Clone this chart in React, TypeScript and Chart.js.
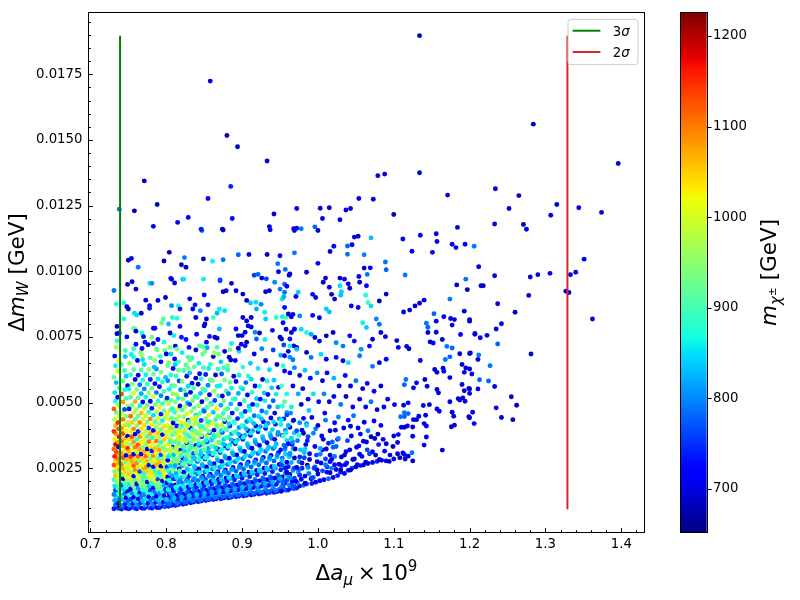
import { useEffect, useRef } from "react";
import { Chart, registerables } from "chart.js";
Chart.register(...registerables);

const FONT = '"DejaVu Sans", "Liberation Sans", sans-serif';

// Each point: [Δa_μ × 10^9, Δm_W in units of 1e-3 GeV, m_χ± in GeV]
const CORE_A: number[][] = [
  [.731,.96,740],[.734,1.02,700],[.737,.97,760],[.738,1.06,652],[.733,1.1,790],[.736,1.18,720],[.732,1.27,820],[.738,1.34,780],[.734,1.42,840],[.731,1.5,800],[.737,1.58,870],[.733,1.66,760],[.736,1.74,890],[.732,1.82,850],[.738,1.9,920],[.734,1.98,960],[.731,2.06,900],[.737,2.14,990],[.733,2.22,1060],[.736,2.3,1000],[.732,2.38,930],[.738,2.46,1080],[.734,2.54,1030],[.731,2.62,1130],[.737,2.7,1090],[.733,2.78,1045],[.736,2.86,1100],[.732,2.95,1160],[.738,3.04,1075],[.734,3.13,1140],[.731,3.22,1110],[.737,3.31,690],[.733,3.4,1165],[.735,3.45,1225],[.736,3.5,1090],[.732,3.6,1030],[.738,3.7,1175],[.734,3.8,1085],[.731,3.9,1145],[.737,4.0,1120],[.733,4.12,1060],[.736,4.24,1150],[.732,4.36,980],[.738,4.48,1010],[.734,4.62,930],[.731,4.76,1120],[.737,4.9,960],[.733,5.05,870],[.736,5.2,720],[.732,5.38,850],[.738,5.56,900],[.734,5.76,830],[.731,5.96,920],[.736,6.2,1000],[.733,6.4,860],[.737,6.6,1010],
  [.741,.95,720],[.744,1.0,760],[.748,.97,690],[.742,1.08,800],[.746,1.14,740],[.749,1.22,780],[.743,1.3,830],[.747,1.38,720],[.741,1.46,860],[.745,1.54,790],[.749,1.62,700],[.743,1.7,850],[.747,1.78,880],[.741,1.86,760],[.745,1.94,910],[.749,2.02,950],[.743,2.1,690],[.747,2.18,1000],[.741,2.26,920],[.745,2.34,1040],[.749,2.42,980],[.743,2.5,1070],[.747,2.58,1010],[.741,2.66,1100],[.745,2.74,940],[.749,2.82,1060],[.743,2.9,1120],[.747,2.99,700],[.741,3.08,1085],[.745,3.17,1030],[.749,3.26,1150],[.743,3.35,1070],[.747,3.44,990],[.741,3.53,1110],[.745,3.62,1060],[.749,3.72,680],[.743,3.82,1130],[.747,3.92,1020],[.741,4.02,1090],[.745,4.13,1045],[.749,4.24,970],[.743,4.36,1100],[.747,4.48,940],[.741,4.6,1000],[.745,4.74,760],[.749,4.88,960],[.743,5.02,1080],[.747,5.16,900],[.741,5.32,1130],[.745,5.48,870],[.749,5.64,700],[.743,5.82,920],[.747,6.0,840],[.745,6.22,890],
  [.751,.96,740],[.754,1.01,700],[.758,.98,770],[.752,1.09,810],[.756,1.16,730],[.759,1.24,840],[.753,1.32,760],[.757,1.4,700],[.751,1.48,870],[.755,1.56,800],[.759,1.64,900],[.753,1.72,690],[.757,1.8,930],[.751,1.88,860],[.755,1.96,970],[.759,2.04,910],[.753,2.12,1010],[.757,2.2,720],[.751,2.28,1050],[.755,2.36,960],[.759,2.44,1090],[.753,2.52,1020],[.757,2.6,1120],[.751,2.68,990],[.755,2.76,1070],[.759,2.85,1040],[.753,2.94,1140],[.757,3.03,690],[.751,3.12,1060],[.755,3.21,1000],[.759,3.3,1100],[.753,3.4,950],[.757,3.5,1080],[.751,3.6,1040],[.755,3.7,1125],[.759,3.8,700],[.753,3.9,1010],[.757,4.0,1090],[.751,4.12,960],[.755,4.24,1050],[.759,4.36,920],[.753,4.48,1110],[.757,4.62,980],[.751,4.76,730],[.755,4.9,940],[.759,5.04,1070],[.753,5.2,900],[.757,5.36,1000],[.751,5.52,860],[.755,5.7,950],[.759,5.88,720],[.753,6.06,880],[.757,6.26,930],
  [.761,.96,730],[.764,1.02,770],[.768,.98,700],[.762,1.1,800],[.766,1.18,750],[.769,1.26,830],[.763,1.34,720],[.767,1.42,790],[.761,1.5,860],[.765,1.58,740],[.769,1.66,880],[.763,1.74,810],[.767,1.82,920],[.761,1.9,700],[.765,1.98,960],[.769,2.06,900],[.763,2.14,1000],[.767,2.22,940],[.761,2.3,1030],[.765,2.38,760],[.769,2.46,1060],[.763,2.54,980],[.767,2.62,1010],[.761,2.7,1090],[.765,2.78,930],[.769,2.86,1050],[.763,2.95,1110],[.767,3.04,700],[.761,3.13,1000],[.765,3.22,1070],[.769,3.31,960],[.763,3.4,1120],[.767,3.5,1020],[.761,3.6,890],[.765,3.7,1080],[.769,3.8,990],[.763,3.9,740],[.767,4.0,1040],[.761,4.12,950],[.765,4.24,1095],[.769,4.36,1000],[.763,4.48,920],[.767,4.6,1060],[.761,4.74,970],[.765,4.88,860],[.769,5.02,710],[.763,5.18,910],[.767,5.34,820],[.761,5.5,940],[.765,5.68,790],[.769,5.86,870],[.763,6.04,700],[.767,6.24,900],
  [.771,.97,740],[.774,1.03,700],[.778,.99,780],[.772,1.1,820],[.776,1.18,730],[.779,1.26,790],[.773,1.34,850],[.777,1.42,710],[.771,1.5,800],[.775,1.58,880],[.779,1.66,760],[.773,1.74,910],[.777,1.82,840],[.771,1.9,950],[.775,1.98,700],[.779,2.06,980],[.773,2.14,920],[.777,2.22,1010],[.771,2.3,870],[.775,2.38,1050],[.779,2.46,960],[.773,2.54,1080],[.777,2.62,720],[.771,2.7,1000],[.775,2.78,1060],[.779,2.87,940],[.773,2.96,1110],[.777,3.05,990],[.771,3.14,1070],[.775,3.23,690],[.779,3.32,1030],[.773,3.42,960],[.777,3.52,1100],[.771,3.62,1010],[.775,3.72,900],[.779,3.82,1070],[.773,3.92,980],[.777,4.03,760],[.771,4.14,1040],[.775,4.26,940],[.779,4.38,1090],[.773,4.5,990],[.777,4.63,880],[.771,4.76,1000],[.775,4.9,920],[.779,5.05,720],[.773,5.2,860],[.777,5.36,960],[.771,5.52,800],[.775,5.7,900],[.779,5.88,740],[.773,6.06,860],[.777,6.26,950],
  [.781,.98,720],[.784,1.04,760],[.788,1.0,700],[.782,1.12,800],[.786,1.2,740],[.789,1.28,830],[.783,1.36,770],[.787,1.44,700],[.781,1.52,860],[.785,1.6,790],[.789,1.68,900],[.783,1.76,730],[.787,1.84,940],[.781,1.92,870],[.785,2.0,980],[.789,2.08,760],[.783,2.16,1000],[.787,2.24,930],[.781,2.32,1040],[.785,2.4,880],[.789,2.48,1010],[.783,2.56,700],[.787,2.64,1070],[.781,2.72,970],[.785,2.8,1030],[.789,2.89,910],[.783,2.98,1090],[.787,3.07,1000],[.781,3.16,740],[.785,3.25,1060],[.789,3.34,950],[.783,3.44,1020],[.787,3.54,1100],[.781,3.64,890],[.785,3.74,990],[.789,3.84,1050],[.783,3.94,700],[.787,4.05,960],[.781,4.16,1030],[.785,4.28,920],[.789,4.4,1000],[.783,4.52,850],[.787,4.65,970],[.781,4.78,730],[.785,4.92,940],[.789,5.06,880],[.783,5.22,1000],[.787,5.38,790],[.781,5.55,920],[.785,5.72,700],[.789,5.9,860],[.783,6.08,930],[.787,6.28,810],
  [.791,1.0,740],[.794,1.06,700],[.798,1.03,770],[.792,1.14,810],[.796,1.22,730],[.799,1.3,780],[.793,1.38,840],[.797,1.46,700],[.791,1.54,800],[.795,1.62,870],[.799,1.7,750],[.793,1.78,900],[.797,1.86,820],[.791,1.94,950],[.795,2.02,720],[.799,2.1,980],[.793,2.18,910],[.797,2.26,1010],[.791,2.34,860],[.795,2.42,1040],[.799,2.5,950],[.793,2.58,700],[.797,2.66,1000],[.791,2.74,1060],[.795,2.83,930],[.799,2.92,1020],[.793,3.01,760],[.797,3.1,990],[.791,3.19,1080],[.795,3.28,940],[.799,3.38,1010],[.793,3.48,870],[.797,3.58,1050],[.791,3.68,970],[.795,3.78,700],[.799,3.88,1000],[.793,3.98,920],[.797,4.09,1040],[.791,4.2,960],[.795,4.32,860],[.799,4.44,990],[.793,4.56,740],[.797,4.69,930],[.791,4.82,1010],[.795,4.96,880],[.799,5.1,950],[.793,5.26,800],[.797,5.42,900],[.791,5.6,720],[.795,5.78,880],[.799,5.96,830],[.793,6.16,940],
];

const CORE_B: number[][] = [
  [.803,1.05,730],[.807,1.09,700],[.801,1.16,770],[.809,1.2,740],[.805,1.27,800],[.802,1.36,720],[.808,1.41,760],[.804,1.5,700],[.806,1.55,820],[.800,1.63,750],[.809,1.7,700],[.803,1.77,790],[.807,1.86,850],[.801,1.95,730],[.805,2.0,880],[.808,2.11,760],[.802,2.17,700],[.806,2.28,900],[.804,2.36,830],[.809,2.43,960],[.801,2.55,760],[.805,2.62,920],[.807,2.72,990],[.802,2.8,700],[.808,2.93,940],[.804,3.0,870],[.806,3.13,1000],[.801,3.19,960],[.809,3.3,730],[.803,3.42,1010],[.807,3.47,940],[.805,3.6,1040],[.801,3.71,980],[.808,3.78,880],[.803,3.9,1000],[.806,4.03,1060],[.802,4.1,950],[.809,4.22,700],[.804,4.35,1000],[.807,4.41,930],[.801,4.57,1010],[.805,4.7,960],[.808,4.77,870],[.803,4.95,990],[.806,5.08,920],[.801,5.17,740],[.809,5.33,950],[.804,5.51,860],[.807,5.64,900],[.802,5.83,800],[.806,6.05,880],[.809,6.3,720],[.803,6.52,940],
  [.812,1.08,740],[.816,1.12,700],[.819,1.19,770],[.811,1.25,810],[.815,1.31,730],[.818,1.4,760],[.813,1.46,700],[.817,1.57,800],[.810,1.63,740],[.814,1.7,840],[.819,1.74,780],[.812,1.86,700],[.816,1.92,860],[.818,2.04,790],[.811,2.1,730],[.815,2.19,880],[.813,2.3,820],[.819,2.36,910],[.817,2.47,700],[.811,2.55,860],[.814,2.66,940],[.818,2.71,760],[.812,2.83,900],[.816,2.9,960],[.810,3.02,830],[.814,3.1,1000],[.819,3.19,700],[.813,3.3,950],[.817,3.38,1020],[.811,3.51,910],[.815,3.6,980],[.818,3.69,1040],[.812,3.82,870],[.816,3.9,1000],[.810,4.02,950],[.814,4.11,740],[.819,4.25,1010],[.813,4.36,930],[.817,4.47,980],[.811,4.63,880],[.815,4.74,1000],[.818,4.87,700],[.812,5.02,940],[.816,5.17,860],[.814,5.3,970],[.819,5.49,800],[.811,5.63,920],[.817,5.82,760],[.813,6.01,880],[.816,6.24,930],[.812,6.45,840],
  [.822,1.13,740],[.826,1.16,700],[.829,1.22,780],[.821,1.3,810],[.825,1.35,730],[.828,1.45,770],[.823,1.52,700],[.827,1.6,820],[.820,1.69,750],[.824,1.76,850],[.829,1.8,700],[.822,1.93,790],[.826,1.99,870],[.828,2.1,740],[.821,2.16,830],[.825,2.24,900],[.823,2.35,700],[.829,2.42,860],[.827,2.52,930],[.821,2.6,780],[.824,2.71,890],[.828,2.79,960],[.822,2.88,700],[.826,2.97,920],[.820,3.08,990],[.824,3.16,850],[.829,3.27,1000],[.823,3.36,940],[.827,3.47,730],[.821,3.57,1010],[.825,3.66,960],[.828,3.77,890],[.822,3.88,1030],[.826,3.99,970],[.820,4.1,860],[.824,4.21,1000],[.829,4.33,700],[.823,4.46,950],[.827,4.58,1010],[.821,4.72,900],[.825,4.85,970],[.828,4.99,820],[.822,5.14,930],[.826,5.3,750],[.824,5.46,900],[.829,5.62,850],[.821,5.8,940],[.827,6.0,700],[.823,6.22,880],[.826,6.43,910],
  [.832,1.18,740],[.836,1.21,700],[.839,1.27,770],[.831,1.34,800],[.835,1.42,730],[.838,1.49,760],[.833,1.57,700],[.837,1.66,810],[.830,1.73,740],[.834,1.8,780],[.839,1.88,700],[.832,1.97,830],[.836,2.06,760],[.838,2.13,860],[.831,2.22,720],[.835,2.32,800],[.833,2.41,880],[.839,2.49,740],[.837,2.59,850],[.831,2.67,700],[.834,2.78,900],[.838,2.86,820],[.832,2.97,930],[.836,3.06,760],[.830,3.17,880],[.834,3.26,960],[.839,3.37,700],[.833,3.47,920],[.837,3.58,990],[.831,3.7,870],[.835,3.8,1000],[.838,3.92,940],[.832,4.03,720],[.836,4.15,980],[.830,4.27,900],[.834,4.39,1010],[.839,4.52,850],[.833,4.66,960],[.837,4.79,920],[.831,4.93,760],[.835,5.08,940],[.838,5.23,880],[.832,5.39,700],[.836,5.56,900],[.834,5.74,730],[.839,5.93,690],[.831,6.13,840],[.837,6.36,920],
  [.842,1.22,740],[.846,1.25,700],[.849,1.31,780],[.841,1.39,810],[.845,1.46,730],[.848,1.54,760],[.843,1.62,700],[.847,1.7,800],[.840,1.78,740],[.844,1.86,820],[.849,1.95,700],[.842,2.03,770],[.846,2.12,840],[.848,2.2,720],[.841,2.29,790],[.845,2.39,860],[.843,2.47,700],[.849,2.57,830],[.847,2.66,900],[.841,2.76,760],[.844,2.85,870],[.848,2.96,700],[.842,3.05,910],[.846,3.16,840],[.840,3.26,940],[.844,3.37,780],[.849,3.48,900],[.843,3.59,970],[.847,3.71,710],[.841,3.82,930],[.845,3.94,1000],[.848,4.07,880],[.842,4.19,950],[.846,4.32,760],[.840,4.45,990],[.844,4.59,910],[.849,4.73,850],[.843,4.88,960],[.847,5.03,700],[.841,5.19,900],[.845,5.35,830],[.848,5.52,920],[.842,5.7,690],[.846,5.9,870],[.844,6.1,720],[.849,6.33,900],
  [.852,1.27,740],[.856,1.3,700],[.859,1.36,780],[.851,1.43,810],[.855,1.5,730],[.858,1.59,760],[.853,1.66,700],[.857,1.75,800],[.850,1.83,740],[.854,1.92,820],[.859,2.0,700],[.852,2.09,770],[.856,2.18,840],[.858,2.27,720],[.851,2.36,790],[.855,2.46,860],[.853,2.55,700],[.859,2.65,830],[.857,2.75,880],[.851,2.85,750],[.854,2.95,860],[.858,3.06,700],[.852,3.16,900],[.856,3.27,820],[.850,3.39,930],[.854,3.5,770],[.859,3.62,890],[.853,3.74,960],[.857,3.86,720],[.851,3.99,920],[.855,4.12,990],[.858,4.25,860],[.852,4.39,940],[.856,4.53,1000],[.850,4.67,780],[.854,4.82,910],[.859,4.97,850],[.853,5.13,940],[.857,5.3,700],[.851,5.47,880],[.855,5.66,800],[.858,5.86,910],[.852,6.07,740],[.856,6.3,860],
];

const CORE_C: number[][] = [
  [.862,1.31,740],[.866,1.34,700],[.869,1.41,780],[.861,1.48,810],[.865,1.56,730],[.868,1.64,760],[.863,1.72,700],[.867,1.81,800],[.860,1.9,740],[.864,1.99,820],[.869,2.08,700],[.862,2.17,780],[.866,2.27,850],[.868,2.37,720],[.861,2.47,800],[.865,2.57,870],[.863,2.67,700],[.869,2.78,840],[.867,2.89,900],[.861,3.0,760],[.864,3.11,880],[.868,3.23,720],[.862,3.34,920],[.866,3.43,1010],[.860,3.56,850],[.864,3.69,900],[.869,3.82,960],[.863,3.95,700],[.867,4.08,930],[.861,4.21,1020],[.865,4.35,880],[.868,4.49,950],[.862,4.63,840],[.866,4.77,1030],[.860,4.92,920],[.864,5.08,760],[.869,5.25,900],[.863,5.43,960],[.867,5.62,860],[.861,5.83,940],[.865,6.05,700],[.868,6.28,880],
  [.872,1.34,740],[.876,1.37,700],[.879,1.44,780],[.871,1.51,810],[.875,1.59,730],[.878,1.68,760],[.873,1.76,700],[.877,1.85,800],[.870,1.94,740],[.874,2.03,820],[.879,2.13,700],[.872,2.23,790],[.876,2.33,850],[.878,2.43,720],[.871,2.54,800],[.875,2.65,860],[.873,2.76,700],[.879,2.87,830],[.877,2.99,890],[.871,3.1,760],[.874,3.22,870],[.878,3.35,700],[.872,3.47,910],[.876,3.6,840],[.870,3.73,950],[.874,3.86,780],[.879,4.0,920],[.873,4.14,990],[.877,4.28,720],[.871,4.43,940],[.875,4.58,880],[.878,4.74,960],[.872,4.9,820],[.876,5.07,930],[.874,5.25,700],[.879,5.44,900],[.871,5.64,860],[.877,5.86,930],[.873,6.09,780],[.876,6.33,890],
  [.882,1.37,740],[.886,1.4,700],[.889,1.47,780],[.881,1.55,800],[.885,1.63,730],[.888,1.72,760],[.883,1.81,700],[.887,1.9,800],[.880,2.0,740],[.884,2.1,820],[.889,2.2,700],[.882,2.31,780],[.886,2.42,840],[.888,2.53,720],[.881,2.64,790],[.885,2.76,850],[.883,2.88,700],[.889,3.0,820],[.887,3.13,870],[.881,3.26,760],[.884,3.39,850],[.888,3.53,700],[.882,3.67,880],[.886,3.81,820],[.880,3.96,900],[.884,4.11,760],[.889,4.27,870],[.883,4.43,920],[.887,4.6,720],[.881,4.77,880],[.885,4.95,830],[.888,5.14,900],[.882,5.34,780],[.886,5.55,860],[.884,5.77,920],[.889,6.0,700],[.881,6.24,880],
  [.892,1.41,740],[.896,1.44,700],[.899,1.51,780],[.891,1.59,800],[.895,1.68,730],[.898,1.77,760],[.893,1.86,700],[.897,1.96,800],[.890,2.06,740],[.894,2.17,820],[.899,2.28,700],[.892,2.39,780],[.896,2.51,840],[.898,2.63,720],[.891,2.75,790],[.895,2.88,850],[.893,3.01,700],[.899,3.15,820],[.897,3.29,860],[.891,3.43,740],[.894,3.58,840],[.898,3.73,700],[.892,3.89,870],[.896,4.05,800],[.890,4.22,890],[.894,4.39,740],[.899,4.57,860],[.893,4.75,900],[.897,4.94,720],[.891,5.14,870],[.895,5.35,820],[.898,5.57,890],[.892,5.8,700],[.896,6.04,860],
  [.902,1.44,740],[.906,1.47,700],[.909,1.54,780],[.901,1.62,800],[.905,1.71,730],[.908,1.81,760],[.903,1.91,700],[.907,2.01,800],[.900,2.12,740],[.904,2.23,820],[.909,2.35,700],[.902,2.47,780],[.906,2.6,840],[.908,2.73,720],[.901,2.86,790],[.905,3.0,850],[.903,3.14,700],[.909,3.29,820],[.907,3.44,850],[.901,3.6,740],[.904,3.76,830],[.908,3.93,700],[.902,4.1,860],[.906,4.28,800],[.900,4.47,880],[.904,4.66,740],[.909,4.86,850],[.903,5.07,890],[.907,5.29,720],[.901,5.52,850],[.905,5.76,780],[.908,6.01,880],
  [.912,1.48,740],[.916,1.51,700],[.919,1.58,780],[.911,1.67,800],[.915,1.76,730],[.918,1.86,760],[.913,1.96,700],[.917,2.07,800],[.910,2.18,740],[.914,2.3,820],[.919,2.42,700],[.912,2.55,780],[.916,2.68,840],[.918,2.82,720],[.911,2.96,790],[.915,3.11,840],[.913,3.26,700],[.919,3.42,810],[.917,3.58,850],[.911,3.75,740],[.914,3.93,820],[.918,4.11,700],[.912,4.3,860],[.916,4.5,790],[.910,4.71,870],[.914,4.93,730],[.919,5.15,840],[.913,5.39,880],[.917,5.63,710],[.912,5.89,850],
  [.922,1.52,740],[.926,1.55,700],[.929,1.62,780],[.921,1.71,800],[.925,1.81,730],[.928,1.91,760],[.923,2.02,700],[.927,2.13,800],[.920,2.25,740],[.924,2.37,820],[.929,2.5,700],[.922,2.63,780],[.926,2.77,830],[.928,2.91,720],[.921,3.06,790],[.925,3.21,840],[.923,3.37,700],[.929,3.54,800],[.927,3.71,850],[.921,3.89,740],[.924,4.08,810],[.928,4.27,700],[.922,4.47,850],[.926,4.68,780],[.920,4.9,860],[.924,5.13,730],[.929,5.37,840],[.923,5.62,870],[.927,5.88,700],
  [.932,1.55,740],[.936,1.58,700],[.939,1.65,780],[.931,1.75,800],[.935,1.85,730],[.938,1.95,760],[.933,2.06,700],[.937,2.18,800],[.930,2.3,740],[.934,2.43,820],[.939,2.56,700],[.932,2.7,780],[.936,2.84,830],[.938,2.99,720],[.931,3.14,790],[.935,3.3,830],[.933,3.47,700],[.939,3.64,800],[.937,3.82,850],[.931,4.01,740],[.934,4.21,810],[.938,4.41,700],[.932,4.62,840],[.936,4.84,780],[.930,5.07,860],[.934,5.31,730],[.939,5.56,840],[.933,5.82,870],
  [.942,1.58,740],[.946,1.61,700],[.949,1.69,780],[.941,1.79,800],[.945,1.89,730],[.948,2.0,760],[.943,2.12,700],[.947,2.24,800],[.940,2.37,740],[.944,2.5,820],[.949,2.64,700],[.942,2.78,780],[.946,2.93,830],[.948,3.09,720],[.941,3.25,790],[.945,3.42,830],[.943,3.6,700],[.947,3.78,800],[.940,3.97,840],[.944,4.17,740],[.949,4.38,810],[.943,4.6,700],[.947,4.83,840],[.941,5.07,780],[.945,5.32,860],[.948,5.58,730],[.942,5.85,840],
];

const CORE_D: number[][] = [
  [.951,1.62,740],[.954,1.7,700],[.958,1.66,780],[.952,1.8,800],[.956,1.92,730],[.959,2.04,760],[.953,2.17,700],[.957,2.3,810],[.951,2.44,740],[.955,2.58,830],[.959,2.73,700],[.953,2.88,790],[.957,3.04,840],[.951,3.2,720],[.955,3.38,800],[.959,3.56,850],[.953,3.75,700],[.957,3.95,810],[.951,4.16,860],[.955,4.38,740],[.959,4.62,820],[.953,4.86,890],
  [.961,1.67,740],[.964,1.75,700],[.968,1.72,780],[.962,1.86,800],[.966,1.99,730],[.969,2.12,760],[.963,2.26,700],[.967,2.41,810],[.961,2.56,740],[.965,2.72,820],[.969,2.89,700],[.963,3.06,790],[.967,3.24,830],[.961,3.43,720],[.965,3.63,800],[.969,3.84,840],[.963,4.06,700],[.967,4.3,810],
  [.972,1.75,740],[.976,1.82,700],[.981,1.85,780],[.985,1.9,760],[.973,1.95,800],[.978,2.08,730],[.983,2.2,700],[.988,2.3,790],[.974,2.35,820],[.979,2.5,740],[.986,2.62,700],[.975,2.75,800],[.982,2.9,760],[.989,3.05,720],[.977,3.2,830],[.984,3.4,700],[.973,3.55,790],[.987,3.7,760],[.979,3.95,720],[.985,4.2,800],
  [.992,1.92,740],[.997,1.97,700],[1.002,2.02,760],[1.008,2.06,720],[1.014,2.1,780],[1.02,2.15,700],[1.026,2.22,740],[.994,2.15,790],[1.0,2.28,700],[1.006,2.4,760],[1.012,2.35,720],[1.018,2.5,800],[1.024,2.45,700],[1.03,2.35,740],[.996,2.55,780],[1.004,2.7,700],[1.01,2.85,760],[1.016,2.75,720],[1.022,2.95,790],[1.028,2.65,700],[.998,3.0,760],[1.006,3.2,700],[1.014,3.45,740],[1.02,3.3,780],[1.026,3.6,700],
  [1.035,2.3,720],[1.04,2.42,700],[1.045,2.5,760],[1.05,2.55,700],[1.056,2.6,740],[1.06,2.62,690],[1.066,2.68,720],[1.072,2.72,700],[1.078,2.76,740],[1.084,2.8,700],[1.09,2.78,720],[1.038,2.7,740],[1.048,2.85,700],[1.058,2.95,720],[1.068,3.05,760],[1.076,3.0,700],[1.088,3.15,720],[1.042,3.2,690],[1.054,3.35,730],[1.064,3.5,700],[1.08,3.4,740],[1.095,3.0,700],[1.1,2.85,720],[1.108,2.9,690],[1.115,2.85,720],
  [.953,2.05,760],[.957,2.5,700],[.962,2.95,820],[.966,3.4,740],[.958,3.85,860],[.964,4.6,800],[.971,2.0,720],[.975,2.45,780],[.979,2.7,700],[.982,3.1,830],[.986,3.55,740],[.975,3.75,880],[.981,4.4,720],[.988,4.7,840],[.991,2.1,700],[.995,2.5,760],[.999,2.75,700],[1.003,3.25,820],[1.007,3.6,700],[.997,4.0,790],[1.009,4.6,720],[1.012,2.55,760],[1.016,3.0,700],[1.019,3.5,780],[1.023,3.95,700],[1.027,4.45,800],[1.031,2.6,720],[1.035,3.0,690],[1.039,3.55,760],[1.043,4.1,700],[1.047,4.5,790],[1.051,3.3,700],[1.056,3.8,720],[1.061,4.25,690],[1.065,3.2,760],[1.07,3.7,700],[1.074,4.3,720],[1.079,3.8,690],[1.086,3.6,720],
];

const FILL: number[][] = [
  [.8045,1.12,780],[.8005,1.31,840],[.8085,1.47,800],[.8025,1.68,860],[.8065,1.84,760],[.8035,2.04,880],[.8075,2.22,820],[.8015,2.41,900],[.8055,2.58,840],[.8095,2.76,930],[.8025,2.95,860],[.8065,3.24,980],[.8045,3.52,900],[.8085,3.84,960],[.8015,4.14,1000],
  [.8145,1.16,790],[.8105,1.36,830],[.8185,1.52,760],[.8125,1.78,870],[.8165,1.97,800],[.8135,2.14,850],[.8175,2.4,900],[.8115,2.6,820],[.8155,2.77,940],[.8195,2.98,870],[.8125,3.22,960],[.8165,3.44,900],[.8145,3.75,1000],[.8185,4.05,940],
  [.8245,1.2,780],[.8205,1.4,820],[.8285,1.56,760],[.8225,1.83,860],[.8265,2.03,810],[.8235,2.2,880],[.8275,2.46,840],[.8215,2.65,910],[.8255,2.84,850],[.8295,3.02,950],[.8225,3.3,880],[.8265,3.52,970],[.8245,3.82,920],[.8285,4.12,990],
  [.8345,1.25,790],[.8305,1.45,830],[.8385,1.62,770],[.8325,1.85,850],[.8365,2.1,800],[.8335,2.27,870],[.8375,2.53,830],[.8315,2.72,890],[.8355,2.91,840],[.8395,3.11,920],[.8325,3.33,870],[.8365,3.63,950],[.8345,3.95,900],[.8385,4.3,980],
  [.8445,1.28,780],[.8405,1.5,830],[.8485,1.66,760],[.8425,1.9,850],[.8465,2.16,800],[.8435,2.34,860],[.8475,2.62,820],[.8415,2.81,880],[.8455,3.01,840],[.8495,3.21,910],[.8425,3.43,860],[.8465,3.76,940],[.8445,4.1,890],
  [.8545,1.33,780],[.8505,1.55,820],[.8585,1.71,760],[.8525,1.96,840],[.8565,2.22,800],[.8535,2.41,860],[.8575,2.7,820],[.8515,2.9,870],[.8555,3.11,830],[.8595,3.33,900],[.8525,3.56,860],[.8565,3.9,930],[.8545,4.26,880],
  [.8645,1.38,790],[.8605,1.6,820],[.8685,1.77,770],[.8625,2.03,840],[.8665,2.32,800],[.8635,2.52,860],[.8675,2.82,820],[.8615,3.05,880],[.8655,3.27,840],[.8695,3.49,910],[.8625,3.76,870],[.8665,4.13,940],
  [.8745,1.41,780],[.8705,1.64,820],[.8785,1.81,760],[.8725,2.08,840],[.8765,2.38,800],[.8735,2.59,850],[.8775,2.93,810],[.8715,3.16,870],[.8755,3.41,830],[.8795,3.66,900],[.8725,3.94,860],[.8765,4.35,920],
  [.8845,1.44,790],[.8805,1.68,830],[.8885,1.86,770],[.8825,2.15,850],[.8865,2.47,800],[.8835,2.7,850],[.8875,3.06,820],[.8815,3.32,870],[.8855,3.58,830],[.8895,3.86,890],[.8825,4.2,850],
  [.8945,1.48,780],[.8905,1.72,820],[.8985,1.91,760],[.8925,2.22,840],[.8965,2.56,800],[.8935,2.82,850],[.8975,3.21,810],[.8915,3.5,860],[.8955,3.8,830],[.8995,4.12,880],
  [.9045,1.51,790],[.9005,1.78,830],[.9085,1.97,770],[.9025,2.3,840],[.9065,2.67,800],[.9035,2.94,850],[.9075,3.36,820],[.9015,3.68,860],[.9055,4.0,830],[.9095,4.38,870],
  [.9145,1.55,780],[.9105,1.83,820],[.9185,2.02,760],[.9125,2.36,840],[.9165,2.76,800],[.9135,3.04,850],[.9175,3.5,810],[.9115,3.84,860],[.9155,4.2,830],
  [.9245,1.59,790],[.9205,1.88,830],[.9285,2.08,770],[.9225,2.43,840],[.9265,2.84,800],[.9235,3.14,850],[.9275,3.62,820],[.9215,3.98,860],[.9255,4.38,830],
  [.9345,1.62,780],[.9305,1.92,820],[.9385,2.13,760],[.9325,2.5,840],[.9365,2.92,800],[.9335,3.22,840],[.9375,3.73,810],[.9315,4.12,850],
  [.9445,1.65,790],[.9405,1.96,830],[.9485,2.18,770],[.9425,2.57,840],[.9465,3.0,800],[.9435,3.32,840],[.9475,3.86,810],[.9415,4.26,850],
  [.9545,1.75,780],[.9505,2.1,820],[.9585,2.38,760],[.9525,2.8,830],[.9565,3.22,800],[.9645,1.82,790],[.9605,2.18,830],[.9685,2.5,770],[.9625,2.95,840],[.9665,3.5,800],
];

const TRANS: number[][] = [
  [.741,6.45,900],[.746,6.75,830],[.752,6.5,960],[.757,7.05,880],[.762,6.6,720],[.766,6.9,930],[.771,6.45,850],[.776,7.2,700],[.779,6.7,910],[.784,6.35,830],[.788,7.0,950],[.793,6.55,720],[.797,7.3,880],[.802,6.4,930],[.806,6.85,840],[.812,7.15,700],[.816,6.55,900],[.821,6.9,860],[.826,7.4,730],[.829,6.3,940],[.834,6.7,890],[.839,7.0,700],[.843,6.5,860],[.848,6.85,920],[.853,7.3,720],[.858,6.45,880],[.862,6.75,690],[.867,7.1,900],[.872,6.55,840],[.877,6.95,700],[.881,6.4,930],[.886,7.25,860],[.891,6.6,720],[.896,6.95,850],[.901,6.35,880],[.906,7.3,690],[.911,6.5,840],[.916,6.85,720],[.921,6.3,860],[.926,7.05,800],[.931,6.6,700],[.936,6.25,850],[.941,7.0,760],[.946,6.45,690],[.951,6.8,820],[.956,6.2,720],[.961,6.95,700],[.735,7.35,880],[.748,7.5,720],[.768,7.65,870],[.783,7.25,690],[.81,7.55,860],[.84,7.6,720],[.87,7.8,830],[.9,7.55,700],[.93,7.4,860],
];

const MID_LEFT: number[][] = [
  [.731,9.27,790],[.734,8.75,870],[.735,7.9,690],[.735,7.62,700],[.738,7.65,720],[.734,7.1,960],[.732,6.77,720],
  [.778,9.54,860],[.781,9.54,800],[.749,9.5,690],[.755,9.6,700],[.760,9.32,690],[.806,9.73,700],[.811,9.55,690],[.822,9.7,800],[.871,9.64,770],[.886,9.54,690],[.875,9.22,690],[.879,9.26,700],[.892,9.26,700],[.901,9.13,690],[.931,9.22,700],[.936,9.26,690],[.943,9.58,800],[.950,9.32,790],[.956,9.51,780],
  [.773,8.9,700],[.778,8.69,720],[.778,8.59,740],[.789,8.89,690],[.799,9.0,690],[.807,8.69,800],[.816,8.69,880],[.831,8.95,720],[.838,8.72,730],[.835,8.56,720],[.850,9.1,720],[.845,8.5,800],[.855,8.72,730],[.870,8.56,860],[.867,8.4,830],[.877,8.5,850],[.862,8.24,890],[.853,8.18,690],[.851,7.99,690],[.850,7.92,690],[.839,8.24,690],[.818,8.56,740],[.808,8.24,880],[.814,8.21,870],[.796,8.18,910],[.794,8.02,930],[.803,7.99,830],[.783,7.83,730],[.785,7.83,700],[.781,7.49,930],[.789,7.4,720],[.770,7.51,730],[.772,7.3,740],[.760,7.22,730],[.768,7.06,720],[.759,7.8,920],[.758,8.4,850],[.761,8.33,850],[.767,8.4,690],[.744,8.18,870],[.744,8.79,870],[.748,8.65,690],[.750,8.56,700],[.757,7.83,920],[.760,7.72,690],[.805,7.65,690],[.818,7.9,720],[.820,7.49,740],[.830,7.1,730],[.798,6.98,930],[.805,7.1,940],[.814,7.04,930],[.787,7.04,920],[.768,6.79,960],[.769,6.63,850],[.757,6.73,870],[.746,6.98,900],[.754,6.83,860],[.785,6.6,960],[.792,6.76,880],[.800,6.85,690],[.811,6.66,720],[.829,6.73,900],[.831,6.62,930],[.844,7.16,900],[.849,7.12,910],[.854,7.09,820],[.864,7.49,690],[.867,7.45,690],[.857,7.52,730],[.851,6.94,940],[.863,6.89,970],[.869,6.85,930],[.884,7.01,930],[.883,6.73,690],[.885,6.62,690],[.895,7.07,690],[.899,7.22,720],[.904,7.16,730],[.892,7.8,720],[.895,7.55,690],[.904,7.68,700],[.906,8.11,690],[.908,7.92,720],[.912,7.88,690],[.901,8.24,690],[.912,8.24,690],[.917,7.68,800],[.919,7.42,780],[.923,7.65,690],[.931,8.18,840],[.930,8.44,860],[.911,8.79,840],[.918,8.82,850],[.925,8.74,800],[.919,8.56,820],[.906,8.89,690],[.940,7.75,720],[.950,7.49,690],[.952,7.42,690],[.945,8.24,880],[.953,8.27,860],[.958,8.24,900],[.953,8.94,850],[.955,9.03,820],[.961,8.37,690],[.965,8.27,690],[.955,7.19,760],[.963,7.42,730],[.969,7.8,790],[.968,7.16,690],[.972,7.1,690],[.963,6.73,810],[.967,6.63,790],
];

const MID_RIGHT: number[][] = [
  [.956,9.2,790],[.959,9.43,720],[.971,9.04,720],[.974,9.2,840],[.993,9.12,720],[.997,9.0,700],[1.007,9.58,690],[1.015,9.39,700],[1.029,9.45,850],[1.031,9.22,840],[1.030,9.09,830],[1.040,9.52,690],[1.042,9.35,700],[1.055,9.58,690],[1.064,9.45,720],[1.018,9.12,690],[1.022,8.94,700],[1.063,9.09,870],[1.066,8.81,900],[1.070,8.68,850],[1.081,8.87,690],[1.090,9.13,690],[1.044,8.68,720],[1.053,8.62,730],[1.011,8.56,840],[1.015,8.45,830],[.993,8.32,720],[1.002,8.23,700],[.967,8.36,720],[.976,8.3,800],[.956,8.62,720],
  [.954,8.04,720],[.958,7.79,690],[.965,7.67,700],[.969,7.79,720],[.978,7.79,850],[.985,7.67,870],[.991,7.6,820],[.996,7.48,690],[1.002,7.34,720],[1.011,7.54,690],[1.020,7.67,690],[1.024,7.28,800],[1.033,7.15,790],[1.042,7.54,720],[1.048,7.34,730],[1.059,8.04,860],[1.064,7.86,840],[1.077,8.18,800],[1.081,7.98,790],[1.083,7.67,690],[1.089,7.51,700],[1.072,7.41,690],[1.068,7.15,720],[1.057,7.03,810],[1.055,6.78,790],[.963,7.15,860],[.972,7.03,830],[.956,6.78,720],[.985,6.91,690],[.991,6.72,790],[1.004,6.84,850],[1.011,6.65,720],[1.024,6.72,730],[1.033,6.59,690],[1.040,6.52,850],[1.081,6.52,690],[1.090,6.65,720],[1.072,6.38,790],
  [.954,6.4,880],[.963,6.13,720],[.969,6.33,800],[.976,6.03,690],[.983,6.23,840],[.990,5.93,720],[.999,6.13,810],[1.006,5.83,690],[1.012,6.13,720],[1.021,5.93,830],[1.028,5.63,690],[1.036,6.03,720],[1.043,5.63,690],[1.050,5.83,790],[1.059,5.53,690],[1.065,5.73,720],[1.074,5.43,720],[1.083,5.63,690],[1.092,5.13,720],[.952,5.63,900],[.959,5.33,870],[.956,5.03,910],[.967,5.63,720],[.974,5.33,820],[.965,4.83,860],[.980,5.53,690],[.987,5.13,720],[.994,5.33,850],[.978,4.93,690],[1.001,5.03,720],[1.008,5.33,800],[1.015,5.03,690],[1.021,5.23,720],[1.030,4.93,790],[1.037,5.23,690],[1.046,4.83,720],[1.055,5.13,690],[1.063,4.83,720],[1.070,5.03,790],[1.078,4.73,690],[1.087,4.83,720],
  [.952,4.33,860],[.959,4.53,760],[.961,4.13,820],[.968,4.33,690],[.972,3.93,770],[.954,3.73,900],[.965,3.63,850],[.976,4.23,800],[.981,3.83,690],[.985,4.13,850],[.992,4.43,720],[.994,3.83,800],[1.0,4.13,690],[1.005,3.73,720],[1.010,4.33,790],[1.016,3.93,690],[1.022,4.23,720],[1.027,3.63,800],[1.034,4.03,690],[1.040,4.33,720],[1.044,3.73,690],[1.053,4.03,720],[1.060,3.53,690],[1.066,3.93,790],[1.075,3.63,690],[1.083,4.13,720],[1.090,3.43,690],[.957,3.33,770],[.963,3.03,810],[.970,3.23,690],[.976,2.93,750],[.983,3.23,840],[.989,2.83,690],[.996,3.33,720],[1.003,3.03,800],[1.011,3.23,690],[1.018,2.83,720],[1.024,3.33,780],[1.031,2.93,690],[1.037,3.13,720],[1.046,2.83,690],[1.055,3.03,720],[1.063,2.73,690],[1.072,3.13,720],[1.081,2.83,690],
  [.952,2.63,760],[.959,2.33,690],[.954,1.93,780],[.963,2.13,800],[.952,1.63,690],[.968,1.83,770],[.972,2.53,690],[.976,2.23,750],[.983,1.93,690],[.987,2.53,800],[.992,2.13,760],[.999,2.43,690],[1.003,2.03,720],[1.010,2.63,790],[1.016,2.33,690],[1.022,2.63,720],[1.030,2.43,690],[1.036,2.63,720],[1.043,2.43,690],[1.052,2.63,720],
];

const FAR_RIGHT: number[][] = [
  [1.183,9.48,700],[1.197,9.3,690],[1.174,8.94,790],[1.140,8.9,700],[1.134,8.78,690],[1.128,8.68,700],[1.193,8.48,690],[1.121,8.52,700],[1.113,8.45,690],[1.153,8.38,780],[1.166,8.27,700],[1.175,8.2,710],[1.180,8.16,690],[1.156,8.1,700],[1.143,8.02,790],[1.145,7.87,780],[1.200,8.16,690],[1.207,7.63,700],[1.177,7.95,700],[1.188,7.59,710],[1.145,7.67,690],[1.156,7.68,700],[1.164,7.4,690],[1.170,7.14,790],[1.177,7.08,780],[1.148,7.31,700],[1.152,7.27,710],[1.168,6.64,790],[1.174,6.74,780],[1.187,6.86,700],[1.201,6.89,690],[1.135,6.6,700],[1.117,7.14,700],[1.120,7.05,690],[1.104,7.36,700],[1.106,7.1,710],[1.154,6.26,690],[1.157,6.15,700],[1.165,6.31,700],[1.166,6.19,710],[1.190,6.45,690],[1.195,6.32,700],[1.193,6.15,710],[1.203,6.09,700],[1.211,6.64,690],[1.174,5.95,700],[1.141,5.88,690],[1.144,5.62,710],[1.157,5.5,700],[1.159,5.37,690],[1.130,5.75,700],[1.126,5.56,710],[1.116,5.88,790],[1.114,5.68,780],[1.190,5.69,690],[1.193,5.45,700],[1.191,5.18,690],[1.194,5.05,700],[1.204,4.63,700],[1.199,4.46,690],[1.157,4.76,700],[1.160,4.67,710],[1.177,4.63,690],[1.179,4.48,700],[1.176,4.08,700],[1.164,3.19,690],[1.142,4.52,700],[1.140,4.2,690],[1.143,4.11,710],[1.133,4.48,700],[1.130,4.35,690],[1.143,3.69,700],[1.140,3.38,710],[1.126,4.35,700],[1.125,4.07,690],[1.118,4.11,710],[1.110,4.06,700],[1.114,4.06,690],[1.125,3.72,700],[1.105,3.05,690],[1.112,3.08,700],[1.114,3.02,710],[1.119,2.96,700],[1.125,2.78,690],[1.124,3.09,790],[1.094,2.76,700],[1.099,3.33,690],[1.105,3.48,700],[1.100,3.73,700],[1.106,3.78,710],[1.119,4.58,780],[1.114,4.61,790],[1.101,4.92,700],[1.113,4.9,690],[1.119,4.99,710],[1.109,4.46,790],[1.114,4.47,780],[1.139,4.89,700],[1.147,4.92,690],[1.180,4.14,700],[1.185,5.15,690],[1.187,5.1,700],[1.174,5.03,700],[1.199,5.54,690],[1.200,5.35,700],
  [1.215,9.45,700],[1.218,9.45,690],[1.278,9.08,700],[1.327,9.24,700],[1.331,9.19,690],[1.362,8.18,700],[1.237,8.76,700],[1.260,8.44,690],[1.200,8.1,700],[1.242,8.0,710],[1.235,7.8,700],[1.207,7.6,690],[1.214,7.47,710],[1.223,7.56,700],[1.237,7.23,780],[1.281,6.85,700],[1.200,6.87,700],[1.212,6.81,790],[1.227,6.4,790],[1.200,6.28,700],[1.213,5.87,780],[1.225,5.82,780],[1.233,5.61,700],[1.200,5.52,690],[1.211,5.52,710],[1.255,5.22,700],[1.262,4.9,690],[1.235,4.8,700],[1.242,4.43,700],[1.257,4.35,690],[1.200,4.42,700],[1.206,4.2,710],
];

const UPPER: number[][] = [
  [.858,17.24,690],[.880,15.17,670],[.894,14.74,690],[.933,14.2,700],[.771,13.44,690],[.885,13.23,740],[.855,12.77,720],[.738,12.36,790],[.758,12.3,670],[.788,12.54,690],[.783,11.71,720],[.815,11.86,710],[.829,12.05,720],[.847,11.55,780],[.875,11.57,720],[.887,12.01,710],[.942,12.18,690],[.936,11.7,700],[.937,11.58,720],[.972,12.39,710],[.969,11.55,720],[.972,11.64,710],[.978,11.62,790],[.996,11.69,780],[1.0,11.55,690],[1.003,12.4,700],[1.015,12.42,690],[1.006,12.01,700],[1.029,11.96,710],[1.037,12.33,700],[1.043,12.39,690],[1.054,12.77,720],[1.021,10.95,710],[1.016,10.75,690],[1.039,10.96,780],[1.045,11.01,720],[1.048,11.3,700],[1.053,11.33,690],[1.039,10.65,790],[1.061,10.63,800],
  [.750,10.42,690],[.754,10.49,710],[.763,10.15,790],[.804,10.72,680],[.797,10.39,690],[.824,10.52,790],[.820,10.25,680],[.826,10.15,690],[.849,10.47,690],[.861,10.38,860],[.875,10.44,790],[.895,10.63,780],[.909,10.64,710],[.933,10.64,690],[.950,10.59,700],[.947,10.29,790],[.948,9.98,700],[.957,10.07,790],[.963,9.9,690],[.969,10.7,790],[.985,9.96,690],[1.0,10.3,710],[1.010,9.74,700],[1.029,9.74,690],[1.035,9.7,700],[.849,9.7,860],[.823,9.7,850],[.807,9.7,700],[.871,9.67,760],[.916,9.85,760],[.921,9.88,780],[.926,9.74,690],[.932,9.71,760],[.962,9.85,700],[1.054,9.8,700],[1.065,9.88,790],
  [.846,11.6,740],[.874,11.6,690],[.968,11.62,690],
  [1.134,18.97,690],[1.284,15.6,700],[1.396,14.1,700],[1.079,13.64,700],[1.088,13.7,690],[1.134,13.75,700],[1.073,12.74,700],[1.100,12.16,690],[1.171,12.9,700],[1.234,13.14,710],[1.265,12.88,690],[1.252,12.39,700],[1.315,12.54,700],[1.307,12.13,710],[1.344,12.42,700],[1.374,12.24,700],[1.233,11.8,700],[1.271,11.78,690],[1.275,11.6,700],[1.184,11.67,700],[1.156,11.43,700],[1.157,11.13,710],[1.135,11.37,720],[1.112,11.23,700],[1.124,10.76,710],[1.151,10.72,720],[1.177,11.03,710],[1.182,10.9,700],[1.194,11.03,710],[1.206,10.95,790],[1.212,10.17,700],[1.233,9.83,700],[1.280,9.78,700],[1.290,9.87,700],[1.306,9.92,710],[1.333,9.87,700],[1.340,9.96,700],[1.351,10.46,710],[1.070,11.27,830],[1.061,10.12,700],[1.069,10.13,710],[1.089,10.35,790],[1.090,10.06,780],[1.115,9.86,790],[1.195,9.7,790],
];

const X_TICKS = [0.7, 0.8, 0.9, 1.0, 1.1, 1.2, 1.3, 1.4];
const Y_TICKS = [0.0025, 0.005, 0.0075, 0.01, 0.0125, 0.015, 0.0175];
const CB_TICKS = [700, 800, 900, 1000, 1100, 1200];
const X_RANGE = [0.6968, 1.4313];
const Y_RANGE = [0.000034, 0.019871];
const M_RANGE = [651, 1226.5];
const SIGMA3_X = 0.7391;
const SIGMA2_X = 1.329;
const LINE_Y = [0.00094, 0.01897];

// matplotlib "jet" colormap segment definition
const JET_R = [[0, 0], [0.35, 0], [0.66, 1], [0.89, 1], [1, 0.5]];
const JET_G = [[0, 0], [0.125, 0], [0.375, 1], [0.64, 1], [0.91, 0], [1, 0]];
const JET_B = [[0, 0.5], [0.11, 1], [0.34, 1], [0.65, 0], [1, 0]];

function segVal(pts: number[][], t: number) {
  for (let i = 1; i < pts.length; i++) {
    if (t <= pts[i][0]) {
      const [x0, y0] = pts[i - 1];
      const [x1, y1] = pts[i];
      return y0 + ((y1 - y0) * (t - x0)) / (x1 - x0);
    }
  }
  return pts[pts.length - 1][1];
}
function jet(t: number) {
  const u = Math.min(1, Math.max(0, t));
  const r = Math.round(segVal(JET_R, u) * 255);
  const g = Math.round(segVal(JET_G, u) * 255);
  const b = Math.round(segVal(JET_B, u) * 255);
  return `rgb(${r},${g},${b})`;
}

type Piece = { t: string; it?: boolean; s?: number; dy?: number; gap?: number };
function drawMath(ctx: CanvasRenderingContext2D, pieces: Piece[], x: number, y: number, size: number, rot: number, align: "center" | "left") {
  ctx.save();
  ctx.translate(x, y);
  if (rot) ctx.rotate(rot);
  const fonts = pieces.map((p) => `${p.it ? "italic " : ""}${size * (p.s ?? 1)}px ${FONT}`);
  const widths: number[] = [];
  let total = 0;
  pieces.forEach((p, i) => {
    ctx.font = fonts[i];
    const w = ctx.measureText(p.t).width;
    widths.push(w);
    total += w + (p.gap ?? 0);
  });
  let cx = align === "center" ? -total / 2 : 0;
  ctx.textBaseline = "alphabetic";
  ctx.textAlign = "left";
  ctx.fillStyle = "#000";
  pieces.forEach((p, i) => {
    cx += p.gap ?? 0;
    ctx.font = fonts[i];
    ctx.fillText(p.t, cx, (p.dy ?? 0) * size);
    cx += widths[i];
  });
  ctx.restore();
}

const decor = {
  id: "decor",
  afterDraw(chart: any) {
    const ctx: CanvasRenderingContext2D = chart.ctx;
    const { left, right, top, bottom } = chart.chartArea;
    const xs = chart.scales.x;
    const ys = chart.scales.y;
    const cb = chart.scales.cb;
    ctx.save();
    ctx.strokeStyle = "#000";
    ctx.lineWidth = 1;
    ctx.beginPath();
    for (let i = 0; i <= 36; i++) {
      const v = 0.7 + i * 0.02;
      if (v > X_RANGE[1]) break;
      const len = i % 5 === 0 ? 4.9 : 2.8;
      const p = Math.round(xs.getPixelForValue(v)) + 0.5;
      ctx.moveTo(p, bottom);
      ctx.lineTo(p, bottom - len);
    }
    for (let k = 1; k <= 39; k++) {
      const v = k * 0.0005;
      if (v > Y_RANGE[1]) break;
      const len = k % 5 === 0 ? 4.9 : 2.8;
      const p = Math.round(ys.getPixelForValue(v)) + 0.5;
      ctx.moveTo(left, p);
      ctx.lineTo(left + len, p);
    }
    ctx.stroke();
    ctx.strokeRect(Math.round(left) + 0.5, Math.round(top) + 0.5, Math.round(right - left) - 1, Math.round(bottom - top) - 1);

    // legend
    const lx = right - 77, ly = top + 7.3, lw = 70, lh = 45.4;
    ctx.beginPath();
    const r = 3;
    ctx.moveTo(lx + r, ly);
    ctx.arcTo(lx + lw, ly, lx + lw, ly + lh, r);
    ctx.arcTo(lx + lw, ly + lh, lx, ly + lh, r);
    ctx.arcTo(lx, ly + lh, lx, ly, r);
    ctx.arcTo(lx, ly, lx + lw, ly, r);
    ctx.closePath();
    ctx.fillStyle = "rgba(255,255,255,0.8)";
    ctx.fill();
    ctx.strokeStyle = "#cccccc";
    ctx.stroke();
    const entries = [
      { c: "#008000", n: "3", y: ly + 11.4 },
      { c: "#d62728", n: "2", y: ly + 32.7 },
    ];
    entries.forEach((e) => {
      ctx.strokeStyle = e.c;
      ctx.lineWidth = 2;
      ctx.beginPath();
      ctx.moveTo(lx + 4.7, e.y);
      ctx.lineTo(lx + 32.4, e.y);
      ctx.stroke();
      drawMath(ctx, [{ t: e.n }, { t: "σ", it: true }], lx + 44.7, e.y + 5, 13.3, 0, "left");
    });

    // colorbar
    const cbTop = cb.getPixelForValue(M_RANGE[1]);
    const cbBot = cb.getPixelForValue(M_RANGE[0]);
    const cx0 = right + 35, cw = 26.7;
    const grad = ctx.createLinearGradient(0, cbBot, 0, cbTop);
    for (let i = 0; i <= 100; i++) grad.addColorStop(i / 100, jet(i / 100));
    ctx.fillStyle = grad;
    ctx.fillRect(cx0, cbTop, cw, cbBot - cbTop);
    ctx.strokeStyle = "#000";
    ctx.lineWidth = 1;
    ctx.strokeRect(Math.round(cx0) + 0.5, Math.round(cbTop) + 0.5, Math.round(cw), Math.round(cbBot - cbTop) - 1);
    ctx.beginPath();
    CB_TICKS.forEach((v) => {
      const p = Math.round(cb.getPixelForValue(v)) + 0.5;
      ctx.moveTo(cx0 + cw, p);
      ctx.lineTo(cx0 + cw + 4.9, p);
    });
    ctx.stroke();

    // axis titles
    const midY = (top + bottom) / 2;
    drawMath(ctx, [{ t: "Δ" }, { t: "m", it: true }, { t: "W", it: true, s: 0.7, dy: 0.22 }, { t: " [GeV]" }], 23.5, midY, 21.5, -Math.PI / 2, "center");
    drawMath(ctx, [{ t: "Δ" }, { t: "a", it: true }, { t: "μ", it: true, s: 0.7, dy: 0.22 }, { t: "×", gap: 4.7 }, { t: "10", gap: 4.7 }, { t: "9", s: 0.7, dy: -0.42 }], (left + right) / 2, 580, 21.5, 0, "center");
    drawMath(ctx, [{ t: "m", it: true }, { t: "χ", it: true, s: 0.7, dy: 0.22 }, { t: "±", s: 0.5, dy: -0.02 }, { t: " [GeV]" }], 776, midY, 21.5, -Math.PI / 2, "center");
    ctx.restore();
  },
};

const noPad = (s: any) => {
  s.paddingTop = 0;
  s.paddingBottom = 0;
  s.paddingLeft = 0;
  s.paddingRight = 0;
};

export default function App() {
  const ref = useRef<HTMLCanvasElement>(null);
  useEffect(() => {
    const canvas = ref.current;
    if (!canvas) return;
    const all = [...CORE_A, ...CORE_B, ...CORE_C, ...CORE_D, ...FILL, ...TRANS, ...MID_LEFT, ...MID_RIGHT, ...FAR_RIGHT, ...UPPER];
    const points = all.map(([x, y, m]) => ({ x, y: y / 1000, m }));
    const colors = points.map((p) => jet((p.m - M_RANGE[0]) / (M_RANGE[1] - M_RANGE[0])));
    const tickFont = { family: FONT, size: 13.3 };
    const chart = new Chart(canvas, {
      type: "scatter",
      data: {
        datasets: [
          { label: "3σ", data: [{ x: SIGMA3_X, y: LINE_Y[0] }, { x: SIGMA3_X, y: LINE_Y[1] }], showLine: true, borderColor: "#008000", borderWidth: 2, pointRadius: 0, order: 0, xAxisID: "x", yAxisID: "y" },
          { label: "2σ", data: [{ x: SIGMA2_X, y: LINE_Y[0] }, { x: SIGMA2_X, y: LINE_Y[1] }], showLine: true, borderColor: "#d62728", borderWidth: 2, pointRadius: 0, order: 0, xAxisID: "x", yAxisID: "y" },
          { label: "points", data: points, pointRadius: 2.45, pointBackgroundColor: colors, pointBorderWidth: 0, pointHoverRadius: 2.45, order: 1, xAxisID: "x", yAxisID: "y" } as any,
        ],
      },
      options: {
        animation: false,
        responsive: false,
        events: [],
        layout: { padding: { top: 12, left: 0, right: 0, bottom: 0 } },
        plugins: { legend: { display: false }, tooltip: { enabled: false } },
        scales: {
          x: {
            type: "linear", position: "bottom", min: X_RANGE[0], max: X_RANGE[1],
            grid: { display: false, drawTicks: false }, border: { display: false },
            afterBuildTicks: (s: any) => { s.ticks = X_TICKS.map((v) => ({ value: v })); },
            afterFit: (s: any) => { s.height = 67; noPad(s); },
            ticks: { font: tickFont, color: "#000", padding: 4, autoSkip: false, maxRotation: 0, minRotation: 0, callback: (v: any) => Number(v).toFixed(1) },
          },
          y: {
            type: "linear", position: "left", min: Y_RANGE[0], max: Y_RANGE[1],
            grid: { display: false, drawTicks: false }, border: { display: false },
            afterBuildTicks: (s: any) => { s.ticks = Y_TICKS.map((v) => ({ value: v })); },
            afterFit: (s: any) => { s.width = 88; noPad(s); },
            ticks: { font: tickFont, color: "#000", padding: 5.5, autoSkip: false, callback: (v: any) => Number(v).toFixed(4) },
          },
          cb: {
            type: "linear", position: "right", min: M_RANGE[0], max: M_RANGE[1],
            grid: { display: false, drawTicks: false }, border: { display: false },
            afterBuildTicks: (s: any) => { s.ticks = CB_TICKS.map((v) => ({ value: v })); },
            afterFit: (s: any) => { s.width = 155; noPad(s); },
            ticks: { font: tickFont, color: "#000", padding: 68, autoSkip: false, callback: (v: any) => String(v) },
          },
        },
      },
      plugins: [decor],
    } as any);
    return () => chart.destroy();
  }, []);
  return (
    <div style={{ position: "absolute", left: 0, top: 0, width: 800, height: 600, background: "#fff" }}>
      <canvas ref={ref} width={800} height={600} style={{ width: 800, height: 600 }} />
    </div>
  );
}
